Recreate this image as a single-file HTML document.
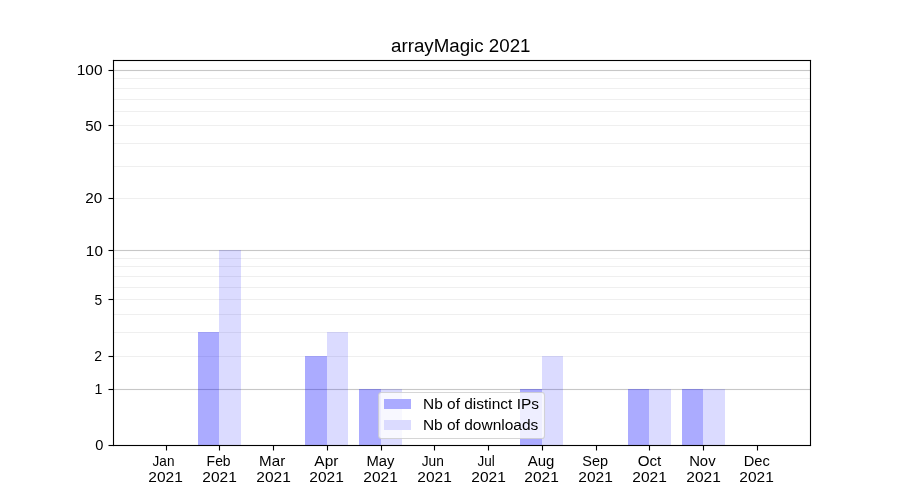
<!DOCTYPE html>
<html><head><meta charset="utf-8"><style>
html,body{margin:0;padding:0;background:#fff;overflow:hidden;}
svg{display:block;will-change:transform;}
.t{font-family:"Liberation Sans",sans-serif;fill:#000;}
</style></head><body>
<svg width="900" height="500" viewBox="0 0 900 500">
<rect x="0" y="0" width="900" height="500" fill="#fff"/>
<rect x="113.5" y="355.945" width="697.0" height="1.111" fill="#efefef"/>
<rect x="113.5" y="331.945" width="697.0" height="1.111" fill="#efefef"/>
<rect x="113.5" y="313.945" width="697.0" height="1.111" fill="#efefef"/>
<rect x="113.5" y="298.945" width="697.0" height="1.111" fill="#efefef"/>
<rect x="113.5" y="286.945" width="697.0" height="1.111" fill="#efefef"/>
<rect x="113.5" y="275.945" width="697.0" height="1.111" fill="#efefef"/>
<rect x="113.5" y="265.945" width="697.0" height="1.111" fill="#efefef"/>
<rect x="113.5" y="257.945" width="697.0" height="1.111" fill="#efefef"/>
<rect x="113.5" y="197.945" width="697.0" height="1.111" fill="#efefef"/>
<rect x="113.5" y="165.945" width="697.0" height="1.111" fill="#efefef"/>
<rect x="113.5" y="142.945" width="697.0" height="1.111" fill="#efefef"/>
<rect x="113.5" y="124.945" width="697.0" height="1.111" fill="#efefef"/>
<rect x="113.5" y="110.945" width="697.0" height="1.111" fill="#efefef"/>
<rect x="113.5" y="98.945" width="697.0" height="1.111" fill="#efefef"/>
<rect x="113.5" y="87.945" width="697.0" height="1.111" fill="#efefef"/>
<rect x="113.5" y="77.945" width="697.0" height="1.111" fill="#efefef"/>
<rect x="113.5" y="388.945" width="697.0" height="1.111" fill="#c7c7c7"/>
<rect x="113.5" y="249.945" width="697.0" height="1.111" fill="#c7c7c7"/>
<rect x="113.5" y="69.945" width="697.0" height="1.111" fill="#c7c7c7"/>
<rect x="198" y="332" width="21" height="113" fill="rgba(0,0,255,0.33)"/>
<rect x="219" y="250" width="22" height="195" fill="rgba(0,0,255,0.14)"/>
<rect x="305" y="356" width="22" height="89" fill="rgba(0,0,255,0.33)"/>
<rect x="327" y="332" width="21" height="113" fill="rgba(0,0,255,0.14)"/>
<rect x="359" y="389" width="22" height="56" fill="rgba(0,0,255,0.33)"/>
<rect x="381" y="389" width="21" height="56" fill="rgba(0,0,255,0.14)"/>
<rect x="520" y="389" width="22" height="56" fill="rgba(0,0,255,0.33)"/>
<rect x="542" y="356" width="21" height="89" fill="rgba(0,0,255,0.14)"/>
<rect x="628" y="389" width="21" height="56" fill="rgba(0,0,255,0.33)"/>
<rect x="649" y="389" width="22" height="56" fill="rgba(0,0,255,0.14)"/>
<rect x="682" y="389" width="21" height="56" fill="rgba(0,0,255,0.33)"/>
<rect x="703" y="389" width="22" height="56" fill="rgba(0,0,255,0.14)"/>
<rect x="378.65" y="392.55" width="165.85" height="45.95" rx="2.78" ry="2.78" fill="rgba(255,255,255,0.8)" stroke="rgba(204,204,204,0.8)" stroke-width="1.111"/>
<rect x="384" y="399" width="27" height="10" fill="#ababff"/>
<rect x="384" y="420" width="27" height="10" fill="#dbdbff"/>
<rect x="112.945" y="59.9445" width="1.111" height="386.111" fill="#000"/>
<rect x="809.944" y="59.9445" width="1.111" height="386.111" fill="#000"/>
<rect x="112.9445" y="59.944" width="698.1110000000001" height="1.111" fill="#000"/>
<rect x="112.9445" y="444.945" width="698.1110000000001" height="1.111" fill="#000"/>
<rect x="108.5" y="444.945" width="5.0" height="1.111" fill="#000"/>
<rect x="108.5" y="388.945" width="5.0" height="1.111" fill="#000"/>
<rect x="108.5" y="355.945" width="5.0" height="1.111" fill="#000"/>
<rect x="108.5" y="298.945" width="5.0" height="1.111" fill="#000"/>
<rect x="108.5" y="249.945" width="5.0" height="1.111" fill="#000"/>
<rect x="108.5" y="197.945" width="5.0" height="1.111" fill="#000"/>
<rect x="108.5" y="124.945" width="5.0" height="1.111" fill="#000"/>
<rect x="108.5" y="69.945" width="5.0" height="1.111" fill="#000"/>
<rect x="165.945" y="445.5" width="1.111" height="5.0" fill="#000"/>
<rect x="218.945" y="445.5" width="1.111" height="5.0" fill="#000"/>
<rect x="272.945" y="445.5" width="1.111" height="5.0" fill="#000"/>
<rect x="326.945" y="445.5" width="1.111" height="5.0" fill="#000"/>
<rect x="380.945" y="445.5" width="1.111" height="5.0" fill="#000"/>
<rect x="433.945" y="445.5" width="1.111" height="5.0" fill="#000"/>
<rect x="487.945" y="445.5" width="1.111" height="5.0" fill="#000"/>
<rect x="541.944" y="445.5" width="1.111" height="5.0" fill="#000"/>
<rect x="595.944" y="445.5" width="1.111" height="5.0" fill="#000"/>
<rect x="648.944" y="445.5" width="1.111" height="5.0" fill="#000"/>
<rect x="702.944" y="445.5" width="1.111" height="5.0" fill="#000"/>
<rect x="756.944" y="445.5" width="1.111" height="5.0" fill="#000"/>
<text class="t" style="font-size:17px" transform="translate(391.08 51.70) scale(1.1015 1.0252)">arrayMagic 2021</text>
<text class="t" style="font-size:14px" transform="translate(95.25 450.38) scale(1.0448 1.0606)">0</text>
<text class="t" style="font-size:14px" transform="translate(94.43 393.55) scale(1.0167 1.0625)">1</text>
<text class="t" style="font-size:14px" transform="translate(94.37 361.00) scale(1.0000 1.0722)">2</text>
<text class="t" style="font-size:14px" transform="translate(94.54 304.78) scale(0.9848 1.0722)">5</text>
<text class="t" style="font-size:14px" transform="translate(85.87 256.27) scale(1.0935 1.0606)">10</text>
<text class="t" style="font-size:14px" transform="translate(85.36 202.91) scale(1.0909 1.0707)">20</text>
<text class="t" style="font-size:14px" transform="translate(85.15 130.88) scale(1.0764 1.0606)">50</text>
<text class="t" style="font-size:14px" transform="translate(76.67 75.09) scale(1.1060 1.0606)">100</text>
<text class="t" style="font-size:14px" transform="translate(152.60 466.30) scale(0.9674 1.0722)">Jan</text>
<text class="t" style="font-size:14px" transform="translate(148.30 481.90) scale(1.1074 1.0707)">2021</text>
<text class="t" style="font-size:14px" transform="translate(206.62 466.11) scale(0.9955 1.0588)">Feb</text>
<text class="t" style="font-size:14px" transform="translate(202.37 481.94) scale(1.1074 1.0707)">2021</text>
<text class="t" style="font-size:14px" transform="translate(259.09 465.80) scale(1.0833 1.0722)">Mar</text>
<text class="t" style="font-size:14px" transform="translate(256.34 481.93) scale(1.1074 1.0707)">2021</text>
<text class="t" style="font-size:14px" transform="translate(314.36 466.15) scale(1.1019 1.0480)">Apr</text>
<text class="t" style="font-size:14px" transform="translate(309.33 481.91) scale(1.1074 1.0707)">2021</text>
<text class="t" style="font-size:14px" transform="translate(366.41 465.81) scale(1.0593 1.0480)">May</text>
<text class="t" style="font-size:14px" transform="translate(363.30 481.90) scale(1.1074 1.0707)">2021</text>
<text class="t" style="font-size:14px" transform="translate(421.63 466.30) scale(0.9814 1.0722)">Jun</text>
<text class="t" style="font-size:14px" transform="translate(417.35 481.93) scale(1.1074 1.0707)">2021</text>
<text class="t" style="font-size:14px" transform="translate(477.45 466.30) scale(0.9641 1.0588)">Jul</text>
<text class="t" style="font-size:14px" transform="translate(471.34 481.93) scale(1.1074 1.0707)">2021</text>
<text class="t" style="font-size:14px" transform="translate(527.75 466.13) scale(1.0708 1.0480)">Aug</text>
<text class="t" style="font-size:14px" transform="translate(524.29 481.91) scale(1.1074 1.0707)">2021</text>
<text class="t" style="font-size:14px" transform="translate(582.30 466.32) scale(1.0339 1.0394)">Sep</text>
<text class="t" style="font-size:14px" transform="translate(578.37 481.93) scale(1.1074 1.0707)">2021</text>
<text class="t" style="font-size:14px" transform="translate(637.63 466.12) scale(1.0857 1.0714)">Oct</text>
<text class="t" style="font-size:14px" transform="translate(632.35 481.93) scale(1.1074 1.0707)">2021</text>
<text class="t" style="font-size:14px" transform="translate(689.13 466.44) scale(1.0633 1.0722)">Nov</text>
<text class="t" style="font-size:14px" transform="translate(686.35 481.90) scale(1.1074 1.0707)">2021</text>
<text class="t" style="font-size:14px" transform="translate(743.69 466.34) scale(1.0470 1.0619)">Dec</text>
<text class="t" style="font-size:14px" transform="translate(739.31 481.90) scale(1.1074 1.0707)">2021</text>
<text class="t" style="font-size:14px" transform="translate(423.00 409.16) scale(1.1054 1.0588)">Nb of distinct IPs</text>
<text class="t" style="font-size:14px" transform="translate(422.90 429.63) scale(1.1071 1.0588)">Nb of downloads</text>
</svg>
</body></html>
